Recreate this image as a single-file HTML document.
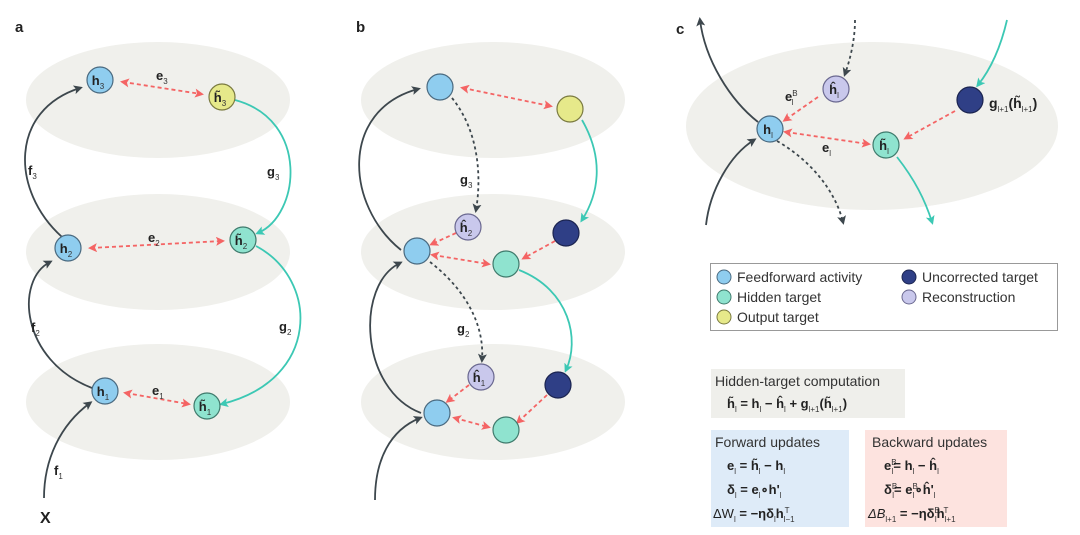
<!DOCTYPE html>
<html><head><meta charset="utf-8"><style>
body{margin:0;background:#fff;}
svg{display:block;font-family:"Liberation Sans",sans-serif;}
.l{font-weight:bold;font-size:13px;fill:#222;}
.s{font-size:8px;fill:#333;font-weight:normal;baseline-shift:-4px;}
.u{font-size:8px;fill:#333;font-weight:normal;baseline-shift:5px;}
.t{font-size:14px;fill:#333;}
</style></head><body>
<svg width="1080" height="535" viewBox="0 0 1080 535" xmlns="http://www.w3.org/2000/svg">
<defs>
<marker id="ad" markerWidth="9" markerHeight="9" refX="6" refY="4.5" orient="auto" markerUnits="userSpaceOnUse"><path d="M0,0 L9,4.5 L0,9 L2,4.5Z" fill="#3d474d"/></marker>
<marker id="at" markerWidth="9" markerHeight="9" refX="6" refY="4.5" orient="auto" markerUnits="userSpaceOnUse"><path d="M0,0 L9,4.5 L0,9 L2,4.5Z" fill="#3cc8b4"/></marker>
<marker id="ar" markerWidth="9" markerHeight="9" refX="6" refY="4.5" orient="auto" markerUnits="userSpaceOnUse"><path d="M0,0 L9,4.5 L0,9 L2,4.5Z" fill="#f46464"/></marker>
<marker id="ars" markerWidth="9" markerHeight="9" refX="3" refY="4.5" orient="auto" markerUnits="userSpaceOnUse"><path d="M9,0 L0,4.5 L9,9 L7,4.5Z" fill="#f46464"/></marker>
</defs>
<g fill="#f0f0ec">
<ellipse cx="158" cy="100" rx="132" ry="58"/><ellipse cx="158" cy="252" rx="132" ry="58"/><ellipse cx="158" cy="402" rx="132" ry="58"/>
<ellipse cx="493" cy="100" rx="132" ry="58"/><ellipse cx="493" cy="252" rx="132" ry="58"/><ellipse cx="493" cy="402" rx="132" ry="58"/>
<ellipse cx="872" cy="126" rx="186" ry="84"/>
</g>
<g font-weight="bold" font-size="15" fill="#222"><text x="15" y="32">a</text><text x="356" y="32">b</text><text x="676" y="34">c</text></g>
<g fill="none" stroke-width="1.8">
<path d="M62,237 C10,190 10,110 80,88" stroke="#3d474d" marker-end="url(#ad)"/>
<path d="M92,388 C20,360 15,280 50,262" stroke="#3d474d" marker-end="url(#ad)"/>
<path d="M44,498 C44,460 60,425 90,403" stroke="#3d474d" marker-end="url(#ad)"/>
<path d="M235,100 C310,120 300,215 258,233" stroke="#3cc8b4" marker-end="url(#at)"/>
<path d="M256,246 C320,280 320,380 222,404" stroke="#3cc8b4" marker-end="url(#at)"/>
<g stroke="#f46464" stroke-dasharray="4,3" marker-start="url(#ars)" marker-end="url(#ar)">
<path d="M123,82 L201,94"/><path d="M91,248 L222,241"/><path d="M126,393 L188,404"/>
</g>
<path d="M401,250 C345,205 340,110 418,89" stroke="#3d474d" marker-end="url(#ad)"/>
<path d="M421,413 C360,390 355,285 400,263" stroke="#3d474d" marker-end="url(#ad)"/>
<path d="M375,500 C375,460 390,430 420,418" stroke="#3d474d" marker-end="url(#ad)"/>
<path d="M582,120 C605,160 598,195 582,220" stroke="#3cc8b4" marker-end="url(#at)"/>
<path d="M519,270 C570,290 580,340 566,370" stroke="#3cc8b4" marker-end="url(#at)"/>
<g stroke="#3d474d" stroke-dasharray="3,3" marker-end="url(#ad)">
<path d="M452,98 C478,130 482,175 476,210"/><path d="M430,262 C460,285 485,320 482,360"/>
</g>
<g stroke="#f46464" stroke-dasharray="4,3" marker-end="url(#ar)">
<path d="M456,233 L432,244"/><path d="M555,241 L524,258"/><path d="M469,385 L448,401"/><path d="M547,395 L518,422"/>
</g>
<g stroke="#f46464" stroke-dasharray="4,3" marker-start="url(#ars)" marker-end="url(#ar)">
<path d="M463,88 L550,106"/><path d="M433,255 L488,264"/><path d="M455,418 L488,427"/>
</g>
<path d="M758,122 C730,100 705,60 700,20" stroke="#3d474d" marker-end="url(#ad)"/>
<path d="M706,225 C710,190 730,155 754,140" stroke="#3d474d" marker-end="url(#ad)"/>
<path d="M1007,20 C1000,50 990,70 978,85" stroke="#3cc8b4" marker-end="url(#at)"/>
<path d="M897,157 C915,180 925,200 932,222" stroke="#3cc8b4" marker-end="url(#at)"/>
<g stroke="#3d474d" stroke-dasharray="3,3" marker-end="url(#ad)">
<path d="M855,20 C855,40 850,60 845,74"/><path d="M777,141 C810,160 835,190 843,222"/>
</g>
<g stroke="#f46464" stroke-dasharray="4,3" marker-end="url(#ar)">
<path d="M818,97 L785,120"/><path d="M955,111 L906,138"/>
</g>
<path d="M786,132 L868,144" stroke="#f46464" stroke-dasharray="4,3" marker-start="url(#ars)" marker-end="url(#ar)"/>
</g>
<g stroke="#4a6a80" stroke-width="1.2">
<g fill="#8fcdef"><circle cx="100" cy="80" r="13"/><circle cx="68" cy="248" r="13"/><circle cx="105" cy="391" r="13"/>
<circle cx="440" cy="87" r="13"/><circle cx="417" cy="251" r="13"/><circle cx="437" cy="413" r="13"/><circle cx="770" cy="129" r="13"/></g>
<g fill="#e6e98a" stroke="#7a7a40"><circle cx="222" cy="97" r="13"/><circle cx="570" cy="109" r="13"/></g>
<g fill="#8fe3cf" stroke="#3f7a6c"><circle cx="243" cy="240" r="13"/><circle cx="207" cy="406" r="13"/><circle cx="506" cy="264" r="13"/><circle cx="506" cy="430" r="13"/><circle cx="886" cy="145" r="13"/></g>
<g fill="#c9c8ec" stroke="#6a6890"><circle cx="468" cy="227" r="13"/><circle cx="481" cy="377" r="13"/><circle cx="836" cy="89" r="13"/></g>
<g fill="#2f3f86" stroke="#1b2450"><circle cx="566" cy="233" r="13"/><circle cx="558" cy="385" r="13"/><circle cx="970" cy="100" r="13"/></g>
</g>
<g class="l" text-anchor="middle">
<text x="98" y="85">h<tspan class="s">3</tspan></text><text x="66" y="253">h<tspan class="s">2</tspan></text><text x="103" y="396">h<tspan class="s">1</tspan></text>
<text x="220" y="102">h̃<tspan class="s">3</tspan></text><text x="241" y="245">h̃<tspan class="s">2</tspan></text><text x="205" y="411">h̃<tspan class="s">1</tspan></text>
<text x="466" y="232">ĥ<tspan class="s">2</tspan></text><text x="479" y="382">ĥ<tspan class="s">1</tspan></text>
<text x="768" y="134">h<tspan class="s">l</tspan></text><text x="834" y="94">ĥ<tspan class="s">l</tspan></text><text x="884" y="150">h̃<tspan class="s">l</tspan></text>
</g>
<g class="l">
<text x="156" y="80">e<tspan class="s">3</tspan></text><text x="148" y="242">e<tspan class="s">2</tspan></text><text x="152" y="395">e<tspan class="s">1</tspan></text>
<text x="28" y="175">f<tspan class="s">3</tspan></text><text x="31" y="332">f<tspan class="s">2</tspan></text><text x="54" y="475">f<tspan class="s">1</tspan></text>
<text x="267" y="176">g<tspan class="s">3</tspan></text><text x="279" y="331">g<tspan class="s">2</tspan></text>
<text x="40" y="523" font-size="16">X</text>
<text x="460" y="184">g<tspan class="s">3</tspan></text><text x="457" y="333">g<tspan class="s">2</tspan></text>
<text x="785" y="101">e<tspan class="u">B</tspan><tspan class="s" dx="-6">l</tspan></text>
<text x="822" y="152">e<tspan class="s">l</tspan></text>
<text x="989" y="108" font-size="14">g<tspan class="s">l+1</tspan>(h̃<tspan class="s">l+1</tspan>)</text>
</g>
<rect x="710.5" y="263.5" width="347" height="67" fill="#fff" stroke="#999"/>
<g stroke-width="1">
<circle cx="724" cy="277" r="7" fill="#8fcdef" stroke="#4a6a80"/>
<circle cx="724" cy="297" r="7" fill="#8fe3cf" stroke="#3f7a6c"/>
<circle cx="724" cy="317" r="7" fill="#e6e98a" stroke="#7a7a40"/>
<circle cx="909" cy="277" r="7" fill="#2f3f86" stroke="#1b2450"/>
<circle cx="909" cy="297" r="7" fill="#c9c8ec" stroke="#6a6890"/>
</g>
<g class="t">
<text x="737" y="282">Feedforward activity</text><text x="737" y="302">Hidden target</text><text x="737" y="322">Output target</text>
<text x="922" y="282">Uncorrected target</text><text x="922" y="302">Reconstruction</text>
</g>
<rect x="711" y="369" width="194" height="49" fill="#efefeb"/>
<rect x="711" y="430" width="138" height="97" fill="#deebf8"/>
<rect x="865" y="430" width="142" height="97" fill="#fde3df"/>
<g class="t">
<text x="715" y="386">Hidden-target computation</text>
<text x="715" y="447">Forward updates</text>
<text x="872" y="447">Backward updates</text>
</g>
<g class="l" font-size="13">
<text x="727" y="408">h̃<tspan class="s">l</tspan> = h<tspan class="s">l</tspan> − ĥ<tspan class="s">l</tspan> + g<tspan class="s">l+1</tspan>(h̃<tspan class="s">l+1</tspan>)</text>
<text x="727" y="470">e<tspan class="s">l</tspan> = h̃<tspan class="s">l</tspan> − h<tspan class="s">l</tspan></text>
<text x="727" y="494">δ<tspan class="s">l</tspan> = e<tspan class="s">l</tspan>∘h'<tspan class="s">l</tspan></text>
<text x="713" y="518"><tspan font-weight="normal">ΔW</tspan><tspan class="s">l</tspan> = −ηδ<tspan class="s">l</tspan>h<tspan class="s">l−1</tspan><tspan class="u" dx="-10">T</tspan></text>
<text x="884" y="470">e<tspan class="u">B</tspan><tspan class="s" dx="-5">l</tspan>= h<tspan class="s">l</tspan> − ĥ<tspan class="s">l</tspan></text>
<text x="884" y="494">δ<tspan class="u">B</tspan><tspan class="s" dx="-5">l</tspan>= e<tspan class="u">B</tspan><tspan class="s" dx="-5">l</tspan>∘ĥ'<tspan class="s">l</tspan></text>
<text x="868" y="518"><tspan font-weight="normal" font-style="italic">ΔB</tspan><tspan class="s">l+1</tspan> = −ηδ<tspan class="u">B</tspan><tspan class="s" dx="-5">l</tspan>h<tspan class="s">l+1</tspan><tspan class="u" dx="-12">T</tspan></text>
</g>
</svg>
</body></html>
